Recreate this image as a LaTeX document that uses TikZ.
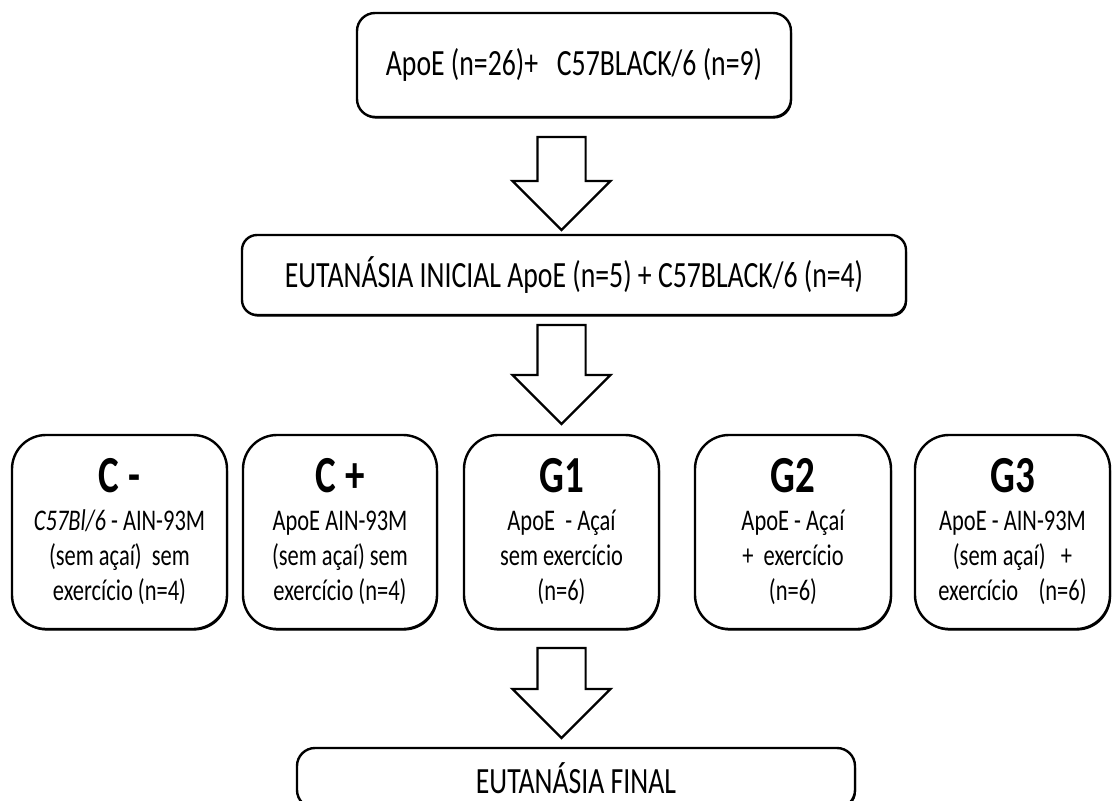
\documentclass[tikz,border=0pt]{standalone}
\usepackage{fontspec}
\setmainfont{Carlito}[FakeStretch=0.75]
\usetikzlibrary{calc,shapes.arrows,shadows}

\tikzset{
  stagebox/.style={draw, line width=2.4pt, rounded corners=18pt, fill=white,
    drop shadow={shadow xshift=1pt, shadow yshift=-1.6pt, opacity=1, fill=black},
    font=\fontsize{37}{44}\selectfont, inner sep=0pt, outer sep=0pt},
  groupbox/.style={stagebox, rounded corners=34pt, minimum height=194pt,
    align=center, font=\fontsize{30}{35}\selectfont},
  downarrow/.style={single arrow, draw, line width=2.2pt, fill=white, rotate=-90,
    inner xsep=0pt, inner ysep=23pt, single arrow head extend=25pt,
    outer sep=0pt, anchor=tail},
}
\newcommand{\grouptitle}[1]{{\fontsize{52}{52}\selectfont\bfseries #1}\\[3pt]}

\begin{document}
\begin{tikzpicture}[x=1pt, y=-1pt]
  \useasboundingbox (0,0) rectangle (1112,801);
  \clip (0,0) rectangle (1112,801);

  % stages
  \node[stagebox, minimum width=434pt, minimum height=104pt] (start) at (574,65)
    {ApoE (n=26)+ \ \ C57BLACK/6 (n=9)};
  \node[stagebox, rounded corners=15pt, minimum width=664pt, minimum height=80pt] (init) at (574,275)
    {EUTANÁSIA INICIAL ApoE (n=5) + C57BLACK/6 (n=4)};

  % groups
  \node[groupbox, minimum width=215pt] (cneg) at (119.5,532)
    {\grouptitle{C -}\textit{C57Bl/6} - AIN-93M\\(sem açaí) \ sem\\exercício (n=4)};
  \node[groupbox, minimum width=194pt] (cpos) at (340,532)
    {\grouptitle{C +}ApoE AIN-93M\\(sem açaí) sem\\exercício (n=4)};
  \node[groupbox, minimum width=195pt] (gone) at (561.5,532)
    {\grouptitle{G1}ApoE \ - Açaí\\sem exercício\\(n=6)};
  \node[groupbox, minimum width=196pt] (gtwo) at (793,532)
    {\grouptitle{G2}ApoE - Açaí\\+ \ exercício\\(n=6)};
  \node[groupbox, minimum width=195pt] (gthree) at (1012.5,532)
    {\grouptitle{G3}ApoE - AIN-93M\\(sem açaí) \ \ +\\exercício \ \ \ (n=6)};

  \node[stagebox, minimum width=558pt, minimum height=60pt] (final) at (576,778)
    {EUTANÁSIA FINAL};

  % block arrows
  \node[downarrow, minimum height=93pt] (arrA) at ($(start.south -| gone)+(0,20)$) {};
  \node[downarrow, minimum height=99pt] (arrB) at ($(init.south -| gone)+(0,10)$) {};
  \node[downarrow, minimum height=90pt] (arrC) at ($(gone.south)+(0,19)$) {};
\end{tikzpicture}
\end{document}
